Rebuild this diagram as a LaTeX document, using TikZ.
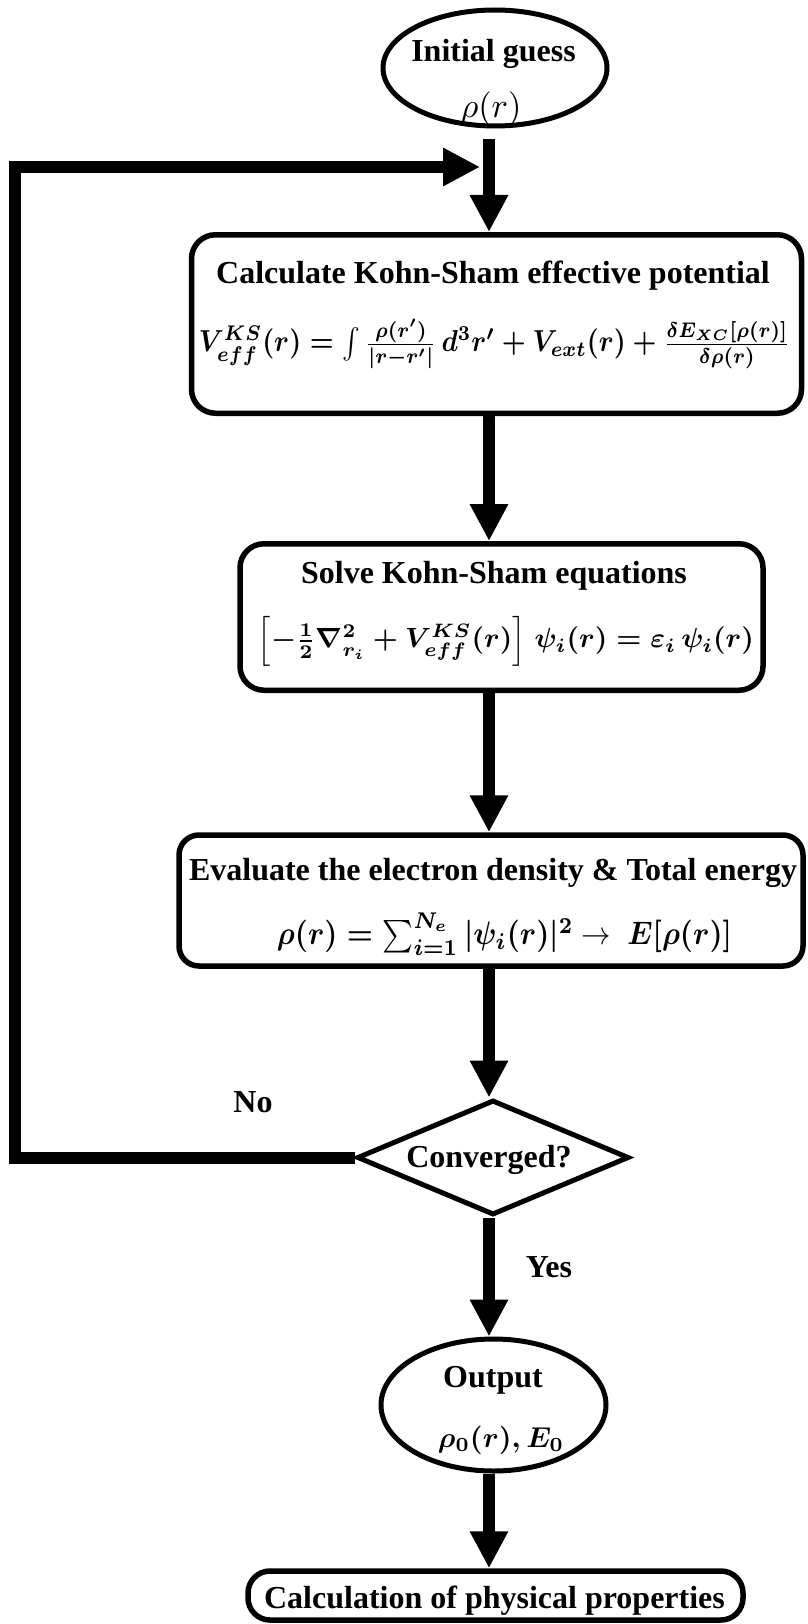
\documentclass[tikz,border=0pt]{standalone}
\usepackage{fontspec}
\setmainfont{Liberation Serif}
\usetikzlibrary{arrows.meta,shapes.geometric}
\begin{document}
\begin{tikzpicture}[x=1pt,y=-1pt,
  every node/.style={inner sep=0pt},
  box/.style={draw, line width=5.5pt, rounded corners=24pt},
  ell/.style={draw, ellipse, line width=5pt},
  ttl/.style={font=\fontsize{32}{38}\selectfont\bfseries, anchor=base},
  arr/.style={line width=12pt, -{Triangle[length=37pt,width=36pt]}},
]
\useasboundingbox (0,0) rectangle (807,1624);
\fill[white] (0,0) rectangle (807,1624);

% nodes
\node[ell, minimum width=224pt, minimum height=116pt] (init) at (495,68) {};
\node[ttl] (initT) at (493.5,62) {Initial guess};
\node[anchor=base] (initM) at (491,118) {\resizebox{61pt}{!}{$\rho(r)$}};

\node[box, minimum width=610pt, minimum height=178.5pt] (b1) at (496.5,324) {};
\node[ttl] (b1t) at (493,283) {Calculate Kohn-Sham effective potential};
\node (b1m) at (494.5,344) {\resizebox*{591pt}{49pt}{\boldmath$V^{KS}_{eff}(r)=\int\frac{\rho(r')}{|r-r'|}\,d^3r'+V_{ext}(r)+\frac{\delta E_{XC}[\rho(r)]}{\delta\rho(r)}$}};

\node[box, minimum width=523pt, minimum height=146.5pt] (b2) at (501.5,617) {};
\node[ttl] (b2t) at (494,583) {Solve Kohn-Sham equations};
\node (b2m) at (506,641) {\resizebox*{496pt}{50pt}{\boldmath$\Bigl[-\frac{1}{2}\nabla^2_{r_i}+V^{KS}_{eff}(r)\Bigr]\;\psi_i(r)=\varepsilon_i\,\psi_i(r)$}};

\node[box, rounded corners=20pt, minimum width=624pt, minimum height=131pt] (b3) at (491,900.5) {};
\node[ttl] (b3t) at (493,880) {Evaluate the electron density \& Total energy};
\node (b3m) at (504.5,934) {\resizebox*{455pt}{42pt}{\boldmath$\rho(r)=\sum_{i=1}^{N_e}|\psi_i(r)|^2$\unboldmath$\;\rightarrow\;\;$\boldmath$E[\rho(r)]$}};

\node[draw, diamond, line width=5pt, minimum width=272pt, minimum height=115pt] (dia) at (493,1157.5) {};
\node[ttl] (diat) at (489,1167) {Converged?};
\node[ttl] (no) at (253,1112) {No};
\node[ttl] (yes) at (549,1277) {Yes};

\node[ell, minimum width=225pt, minimum height=132pt] (out) at (493.5,1405) {};
\node[ttl] (outt) at (493,1387) {Output};
\node[anchor=base] (outm) at (501,1447) {\resizebox{126pt}{!}{\boldmath$\rho_0(r),E_0$}};

\node[box, rounded corners=22pt, minimum width=495pt, minimum height=49pt] (fin) at (495.5,1595.5) {};
\node[ttl] (fint) at (494.5,1608) {Calculation of physical properties};

% connectors
\coordinate (mx) at (489,0);
\coordinate (lx) at (15,0);
\coordinate (jn) at (480,167);
\draw[arr, shorten <=11pt] (mx |- init.south) -- (mx |- b1.north);
\draw[arr] (mx |- b1.south) -- (mx |- b2.north);
\draw[arr] (mx |- b2.south) -- (mx |- b3.north);
\draw[arr] (mx |- b3.south) -- (mx |- dia.north);
\draw[arr] (mx |- dia.south) -- (mx |- out.north);
\draw[arr] (mx |- out.south) -- (mx |- fin.north);
\draw[arr] (dia.west) -- (lx |- dia.west) -- (lx |- jn) -- (jn);
\end{tikzpicture}
\end{document}
